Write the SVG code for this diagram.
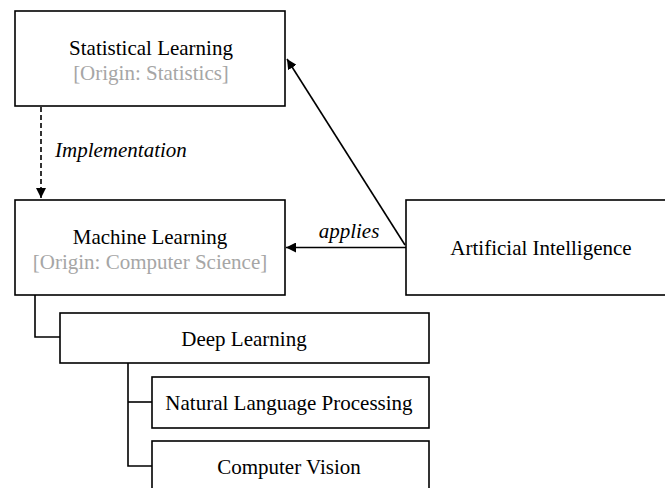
<svg xmlns="http://www.w3.org/2000/svg" width="665" height="488" viewBox="0 0 665 488">
  <style>
    .box { fill: #ffffff; stroke: #000000; stroke-width: 1.6; }
    text { font-family: "Liberation Serif", "Times New Roman", serif; font-size: 21px; }
    .t { fill: #000000; text-anchor: middle; }
    .origin { fill: #a6a6a6; }
    .lbl { font-style: italic; fill: #000000; }
    .edge { fill: none; stroke: #000000; stroke-width: 1.6; }
    .dash { stroke-dasharray: 5 3; }
  </style>
  <defs>
    <marker id="arrow" viewBox="0 0 10 10" refX="10" refY="5" markerWidth="10" markerHeight="10" markerUnits="userSpaceOnUse" orient="auto">
      <path d="M0,0 L10,5 L0,10 z" fill="#000000"/>
    </marker>
  </defs>

  <rect width="665" height="488" fill="#ffffff"/>

  <g id="connectors">
    <line class="edge dash" x1="41" y1="107" x2="41" y2="198" marker-end="url(#arrow)"/>
    <line class="edge" x1="406" y1="247.5" x2="286" y2="247.5" marker-end="url(#arrow)"/>
    <line class="edge" x1="405" y1="245" x2="287" y2="59" marker-end="url(#arrow)"/>
    <polyline class="edge" points="35,295 35,337 60,337"/>
    <polyline class="edge" points="128,363 128,466 152,466"/>
    <line class="edge" x1="128" y1="402" x2="152" y2="402"/>
    <text class="lbl" x="55" y="157">Implementation</text>
    <text class="lbl" x="349" y="238" text-anchor="middle">applies</text>
  </g>

  <g id="statistical-learning">
    <rect class="box" x="15" y="11" width="270" height="95"/>
    <text class="t" x="151" y="55">Statistical Learning</text>
    <text class="t origin" x="151" y="80">[Origin: Statistics]</text>
  </g>

  <g id="machine-learning">
    <rect class="box" x="15" y="200" width="270" height="95"/>
    <text class="t" x="150" y="244">Machine Learning</text>
    <text class="t origin" x="150" y="269">[Origin: Computer Science]</text>
  </g>

  <g id="artificial-intelligence">
    <rect class="box" x="406" y="200" width="272" height="95"/>
    <text class="t" x="541" y="255">Artificial Intelligence</text>
  </g>

  <g id="deep-learning">
    <rect class="box" x="60" y="313" width="369" height="50"/>
    <text class="t" x="244" y="346">Deep Learning</text>
  </g>

  <g id="nlp">
    <rect class="box" x="152" y="377" width="277" height="51"/>
    <text class="t" x="289" y="410">Natural Language Processing</text>
  </g>

  <g id="computer-vision">
    <rect class="box" x="152" y="441" width="277" height="60"/>
    <text class="t" x="289" y="474">Computer Vision</text>
  </g>
</svg>
